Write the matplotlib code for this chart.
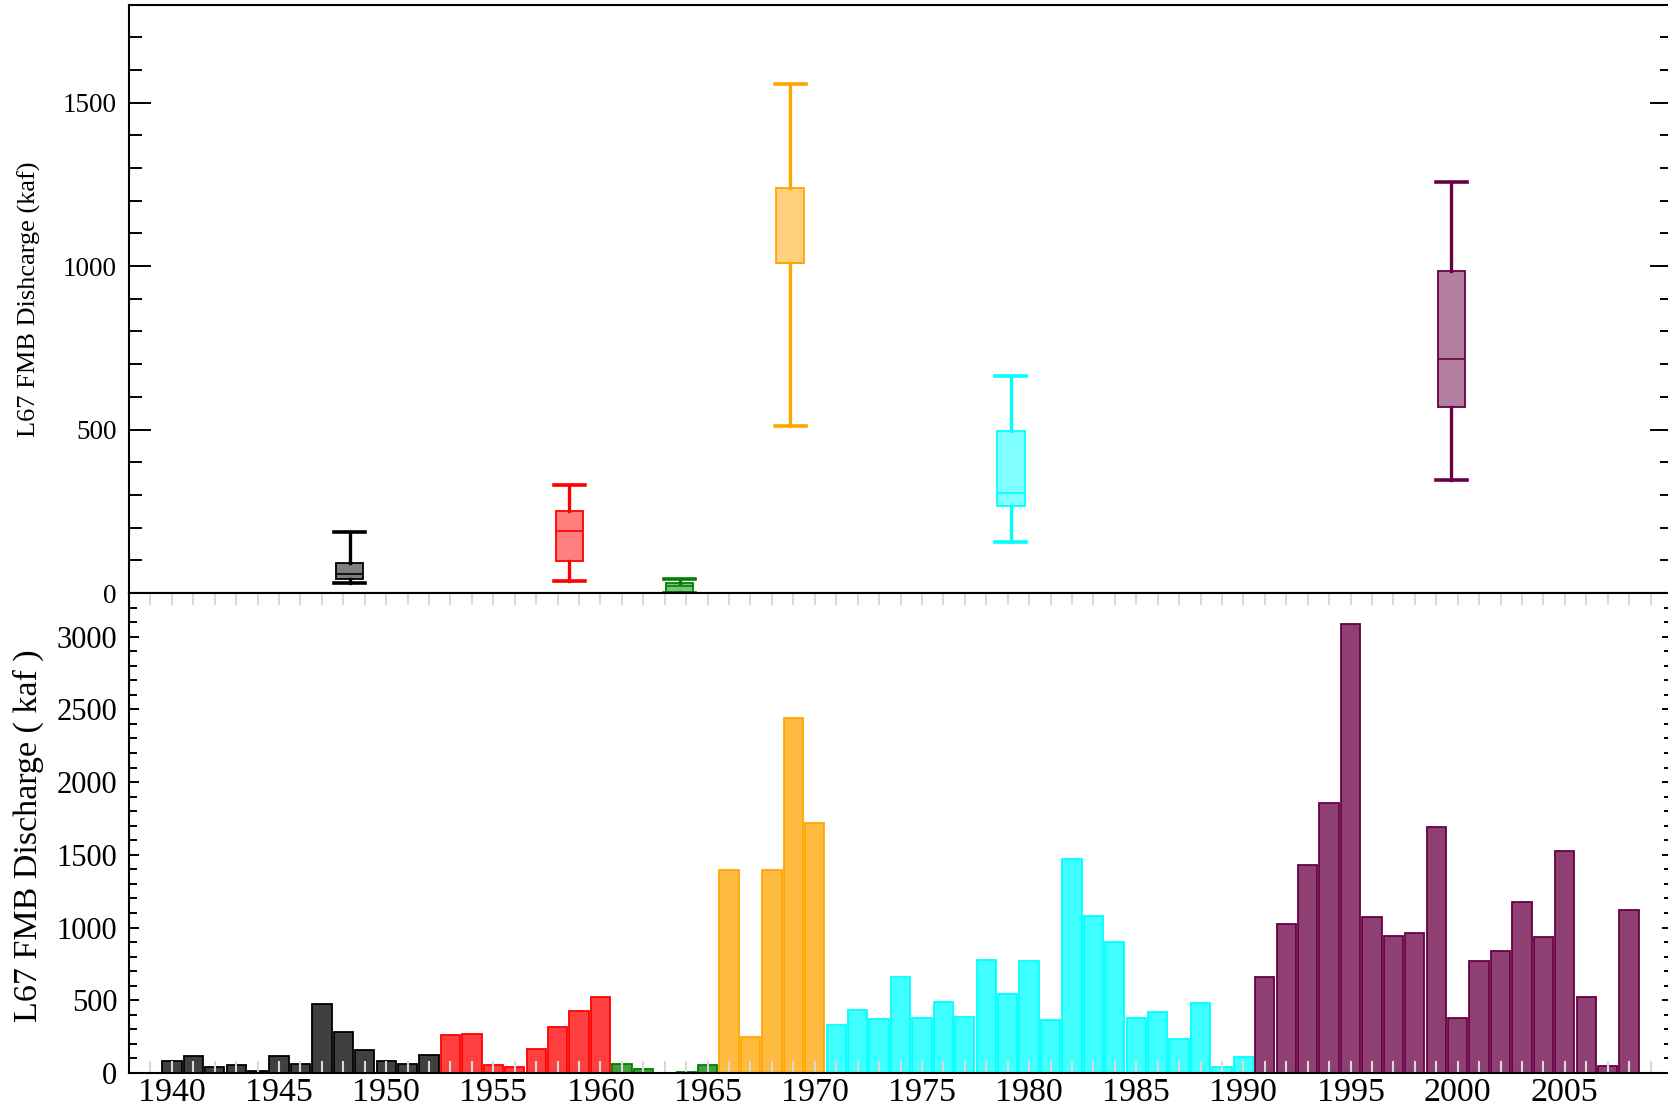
import numpy as np
import matplotlib
matplotlib.use('Agg')
import matplotlib.pyplot as plt
from matplotlib.colors import to_rgba
from matplotlib.ticker import MultipleLocator, FuncFormatter

plt.rcParams['font.family'] = ['Liberation Serif', 'DejaVu Serif']

# annual L67 FMB discharge (kaf), grouped by period
years_black = [1940, 1941, 1942, 1943, 1944, 1945, 1946, 1947, 1948, 1949, 1950, 1951, 1952]
vals_black = [83, 117, 41, 58, 17, 117, 61, 474, 280, 158, 83, 63, 126]
years_red = [1953, 1954, 1955, 1956, 1957, 1958, 1959, 1960]
vals_red = [263, 265, 53, 39, 163, 318, 423, 523]
years_green = [1961, 1962, 1963, 1964, 1965]
vals_green = [61, 29, 0, 7, 53]
years_orange = [1966, 1967, 1968, 1969, 1970]
vals_orange = [1393, 248, 1393, 2439, 1719]
years_cyan = [1971, 1972, 1973, 1974, 1975, 1976, 1977, 1978, 1979, 1980,
              1981, 1982, 1983, 1984, 1985, 1986, 1987, 1988, 1989, 1990]
vals_cyan = [328, 430, 372, 659, 377, 486, 382, 776, 542, 768,
             365, 1471, 1077, 903, 376, 420, 233, 483, 41, 109]
years_purple = [1991, 1992, 1993, 1994, 1995, 1996, 1997, 1998, 1999, 2000,
                2001, 2002, 2003, 2004, 2005, 2006, 2007, 2008]
vals_purple = [660, 1024, 1427, 1854, 3087, 1070, 944, 961, 1689, 381,
               769, 840, 1177, 934, 1527, 522, 51, 1121]

colors = ['#000000', '#ff0000', '#008000', '#ffa500', '#00ffff', '#690044']
year_labels = [1940, 1945, 1950, 1955, 1960, 1965, 1970, 1975, 1980, 1985, 1990, 1995, 2000, 2005]

# box plot summary per period (top panel)
box_pos = [1948.3, 1958.55, 1963.7, 1968.85, 1979.15, 1999.7]
whislo = [32, 37, 0, 512, 156, 346]
q1 = [44, 98, 3, 1008, 267, 568]
med = [59, 189, 21, 1008, 305, 716]
q3 = [93, 250, 32, 1240, 496, 985]
whishi = [186, 329, 42, 1556, 665, 1257]

W, H = 1668, 1114
fig = plt.figure(figsize=(W / 100, H / 100), dpi=100)
x0, x1 = 129, 1672
ax_top = fig.add_axes([x0 / W, 1 - 593 / H, (x1 - x0) / W, (593 - 4.6) / H])
ax_bot = fig.add_axes([x0 / W, 1 - 1073 / H, (x1 - x0) / W, (1073 - 593) / H], sharex=ax_top)

# bottom panel: bars
groups = [(years_black, vals_black), (years_red, vals_red), (years_green, vals_green),
          (years_orange, vals_orange), (years_cyan, vals_cyan), (years_purple, vals_purple)]
for (yrs, vals), c in zip(groups, colors):
    ax_bot.bar(yrs, vals, width=0.9, color=to_rgba(c, 0.75), edgecolor=c, linewidth=1.3)

# top panel: boxes
for i in range(len(box_pos)):
    c = colors[i]
    st = {'whislo': whislo[i], 'q1': q1[i], 'med': med[i], 'q3': q3[i], 'whishi': whishi[i]}
    ax_top.bxp([st], positions=[box_pos[i]], widths=1.28, capwidths=1.45, patch_artist=True,
               showfliers=False, manage_ticks=False,
               boxprops=dict(facecolor=to_rgba(c, 0.5), edgecolor=c, linewidth=1.3),
               medianprops=dict(color=c, linewidth=1.2),
               whiskerprops=dict(color=c, linewidth=2.4),
               capprops=dict(color=c, linewidth=2.6))

ax_bot.set_xlim(1938, 2010)
ax_bot.set_ylim(0, 3300)
ax_top.set_ylim(0, 1800)

ax_bot.xaxis.set_major_locator(MultipleLocator(1))
ax_bot.xaxis.set_major_formatter(FuncFormatter(
    lambda v, p: str(int(round(v))) if int(round(v)) in year_labels else ''))
ax_bot.tick_params(axis='x', which='major', direction='in', top=True, bottom=True, length=8.7,
                   width=1.5, color='#d9d9d9', labelsize=24.5, pad=3.5)
ax_top.tick_params(axis='x', which='both', bottom=False, top=False, labelbottom=False)

for ax in (ax_top, ax_bot):
    ax.yaxis.set_major_locator(MultipleLocator(500))
    ax.yaxis.set_minor_locator(MultipleLocator(100))
    for s in ax.spines.values():
        s.set_linewidth(1.5)

ax_top.tick_params(axis='y', which='major', direction='in', left=True, right=True, length=16,
                   width=1.4, labelsize=19.5, pad=9)
ax_top.tick_params(axis='y', which='minor', direction='in', left=True, right=True, length=9, width=1.4)
ax_bot.tick_params(axis='y', which='major', direction='in', left=True, right=True, length=7.5,
                   width=1.4, labelsize=22, pad=8.5)
ax_bot.tick_params(axis='y', which='minor', direction='in', left=True, right=True, length=6, width=1.4)

ax_top.set_ylabel('L67 FMB Dishcarge (kaf)', fontsize=19, va='center')
ax_top.yaxis.set_label_coords(-0.0648, 0.5)
ax_bot.set_ylabel('L67 FMB Discharge ( kaf )', fontsize=24.5, va='center')
ax_bot.yaxis.set_label_coords(-0.0655, 0.495)

fig.savefig('out.png', dpi=100)
